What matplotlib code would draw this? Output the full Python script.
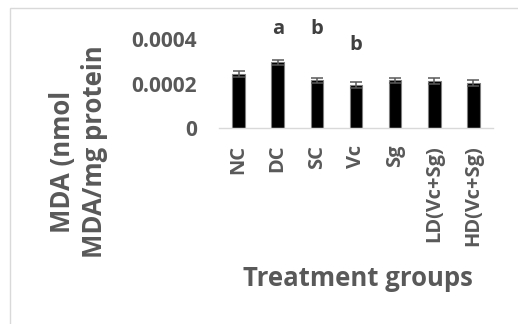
import matplotlib
matplotlib.use("Agg")
import matplotlib.pyplot as plt
from matplotlib.patches import Rectangle

groups = ["NC", "DC", "SC", "Vc", "Sg", "LD(Vc+Sg)", "HD(Vc+Sg)"]
mda_mean = [0.000244, 0.000297, 0.000215, 0.000194, 0.000216, 0.000213, 0.000205]
mda_err = [0.000014, 0.000012, 0.000012, 0.000013, 0.000012, 0.000013, 0.000013]
sig_letters = ["", "a", "b", "b", "", "", ""]
sig_heights = [0, 0.000446, 0.000446, 0.000374, 0, 0, 0]
y_ticks = [0, 0.0002, 0.0004]
y_tick_labels = ["0", "0.0002", "0.0004"]

plt.rcParams["font.family"] = ["Open Sans", "DejaVu Sans"]
plt.rcParams["font.weight"] = "bold"
text_color = "#595959"

W, H = 518, 324
fig = plt.figure(figsize=(W / 100, H / 100), dpi=100)

# chart frame
fig.patches.append(Rectangle((10 / W, -0.1), 1.2, 1 - 8 / H + 0.1,
                             transform=fig.transFigure, fill=False,
                             edgecolor="#d9d9d9", linewidth=1.0))

ax = fig.add_axes([219 / W, 1 - 128.3 / H, 274 / W, 89 / H])
x = range(len(groups))
ax.bar(x, mda_mean, width=0.32, color="black", edgecolor="#7f7f7f",
       linewidth=0.8, zorder=2)
ax.errorbar(x, mda_mean, yerr=mda_err, fmt="none", ecolor="#595959",
            elinewidth=1.1, capsize=4.3, capthick=1.1, zorder=3)

for xi, (lab, hy) in enumerate(zip(sig_letters, sig_heights)):
    if lab:
        ax.text(xi, hy, lab, ha="center", va="center", fontsize=14.5,
                fontweight="bold", color="#404040", clip_on=False)

ax.set_xlim(-0.5, len(groups) - 0.5)
ax.set_ylim(0, 0.0004)
ax.set_yticks(y_ticks)
ax.set_yticklabels(y_tick_labels, fontsize=15, fontweight="bold", color=text_color)
ax.set_xticks(list(x))
ax.set_xticklabels(groups, rotation=90, fontsize=14.5, fontweight="bold",
                   color=text_color, va="top")
ax.tick_params(axis="y", length=0, pad=16)
ax.tick_params(axis="x", length=0, pad=12)
for s in ["top", "right", "left"]:
    ax.spines[s].set_visible(False)
ax.spines["bottom"].set_color("#d9d9d9")
ax.spines["bottom"].set_linewidth(1.0)
ax.patch.set_alpha(0)

fig.text(62.5 / W, 1 - 162 / H, "MDA (nmol", rotation=90, ha="center",
         va="center", fontsize=18.5, fontweight="bold", color=text_color)
fig.text(95 / W, 1 - 151.5 / H, "MDA/mg protein", rotation=90, ha="center",
         va="center", fontsize=18.5, fontweight="bold", color=text_color)
fig.text(357.5 / W, 1 - 279 / H, "Treatment groups", ha="center",
         va="center", fontsize=18.5, fontweight="bold", color=text_color)

fig.savefig("out.png", dpi=100)
